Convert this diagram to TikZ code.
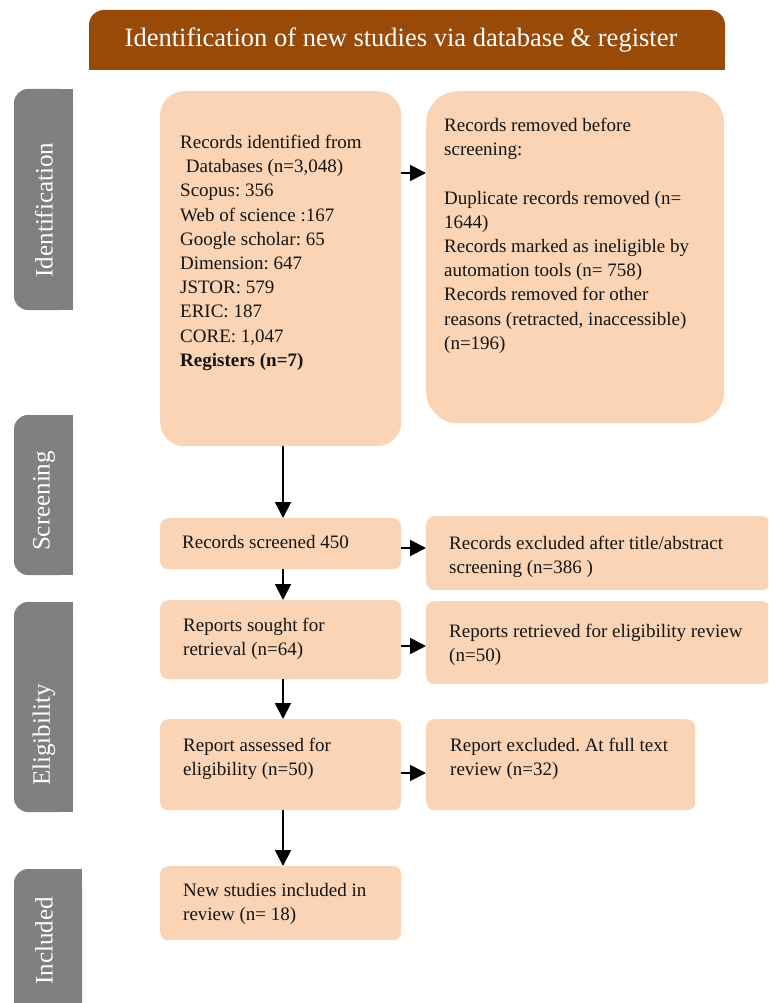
\documentclass[tikz,border=0pt]{standalone}
\usepackage{fontspec}
\setmainfont{Liberation Serif}
\frenchspacing
\usetikzlibrary{arrows.meta}
\definecolor{peach}{RGB}{250,212,181}
\definecolor{hdrbrown}{RGB}{153,73,8}
\definecolor{sidegray}{RGB}{128,128,128}
\definecolor{ink}{RGB}{20,20,20}
\begin{document}
\begin{tikzpicture}[x=1pt,y=-1pt,
  box/.style={fill=peach, draw=none, inner sep=0pt, anchor=north west},
  txt/.style={font=\fontsize{19}{24.2}\selectfont, text=ink, align=left, inner sep=0pt, anchor=north west},
  hdrtext/.style={font=\fontsize{26.5}{30}\selectfont, text=white, inner sep=0pt},
  sidetext/.style={font=\fontsize{25}{28}\selectfont, text=white, inner sep=0pt, rotate=90},
  arr/.style={draw=black, line width=1.9pt, -{Triangle[length=16pt,width=16pt]}}]
\useasboundingbox (0,0) rectangle (768,1003);
\clip (0,0) rectangle (768,1003);
% header
\fill[hdrbrown, rounded corners=15pt] (89,10) rectangle (725,70);
\fill[hdrbrown] (89,40) rectangle (725,70);
\node[hdrtext] (hdr) at (401,40) {Identification of new studies via database \& register};
% side bars
\fill[sidegray, rounded corners=14pt] (14,89) rectangle (73,310);
\fill[sidegray] (44,89) rectangle (73,310);
\node[sidetext] (sid) at (44,210) {Identification};
\fill[sidegray, rounded corners=14pt] (14,415) rectangle (73,575);
\fill[sidegray] (44,415) rectangle (73,575);
\node[sidetext] (sscr) at (44,501) {Screening};
\fill[sidegray, rounded corners=14pt] (14,602) rectangle (73,812);
\fill[sidegray] (44,602) rectangle (73,812);
\node[sidetext] (selig) at (44,735) {Eligibility};
\fill[sidegray, rounded corners=14pt] (14,869) rectangle (82,1020);
\fill[sidegray] (44,869) rectangle (82,1020);
\node[sidetext] (sinc) at (44,941) {Included};
% boxes
\node[box, rounded corners=24pt, minimum width=241pt, minimum height=355pt] (A) at (160,91) {};
\node[box, rounded corners=32pt, minimum width=298pt, minimum height=332pt] (B) at (426,91) {};
\node[box, rounded corners=8pt, minimum width=241pt, minimum height=51pt] (C) at (160,518) {};
\node[box, rounded corners=8pt, minimum width=344pt, minimum height=74pt] (D) at (426,516) {};
\node[box, rounded corners=8pt, minimum width=241pt, minimum height=79pt] (E) at (160,600) {};
\node[box, rounded corners=8pt, minimum width=344pt, minimum height=83pt] (F) at (426,601) {};
\node[box, rounded corners=8pt, minimum width=241pt, minimum height=91pt] (G) at (160,719) {};
\node[box, rounded corners=8pt, minimum width=269pt, minimum height=91pt] (H) at (426,719) {};
\node[box, rounded corners=8pt, minimum width=241pt, minimum height=74pt] (I) at (160,866) {};
% texts
\node[txt] (At) at (180,135) {Records identified from\\
\hspace*{0.3em}Databases (n=3,048)\\
Scopus: 356\\
Web of science :167\\
Google scholar: 65\\
Dimension: 647\\
JSTOR: 579\\
ERIC: 187\\
CORE: 1,047\\
\textbf{Registers (n=7)}};
\node[txt] (Bt) at (444,118) {Records removed before\\
screening:\\
\mbox{}\\
Duplicate records removed (n=\\
1644)\\
Records marked as ineligible by\\
automation tools (n= 758)\\
Records removed for other\\
reasons (retracted, inaccessible)\\
(n=196)};
\node[txt] (Ct) at (182,535) {Records screened 450};
\node[txt] (Dt) at (449,536) {Records excluded after title/abstract\\ screening (n=386 )};
\node[txt] (Et) at (183,618) {Reports sought for\\ retrieval (n=64)};
\node[txt] (Ft) at (449,624) {Reports retrieved for eligibility review\\ (n=50)};
\node[txt] (Gt) at (183,738) {Report assessed for\\ eligibility (n=50)};
\node[txt] (Ht) at (450,738) {Report excluded. At full text\\ review (n=32)};
\node[txt] (It) at (183,883) {New studies included in\\ review (n= 18)};
% connectors
\coordinate (yAB) at (0,173);
\coordinate (yCD) at (0,548);
\coordinate (yEF) at (0,646);
\coordinate (yGH) at (0,773);
\coordinate (xv) at (283,0);
\draw[arr] (A.east |- yAB) -- (B.west |- yAB);
\draw[arr] (A.south -| xv) -- (C.north -| xv);
\draw[arr] (C.east |- yCD) -- (D.west |- yCD);
\draw[arr] (C.south -| xv) -- (E.north -| xv);
\draw[arr] (E.east |- yEF) -- (F.west |- yEF);
\draw[arr] (E.south -| xv) -- (G.north -| xv);
\draw[arr] (G.east |- yGH) -- (H.west |- yGH);
\draw[arr] (G.south -| xv) -- (I.north -| xv);
\end{tikzpicture}
\end{document}
